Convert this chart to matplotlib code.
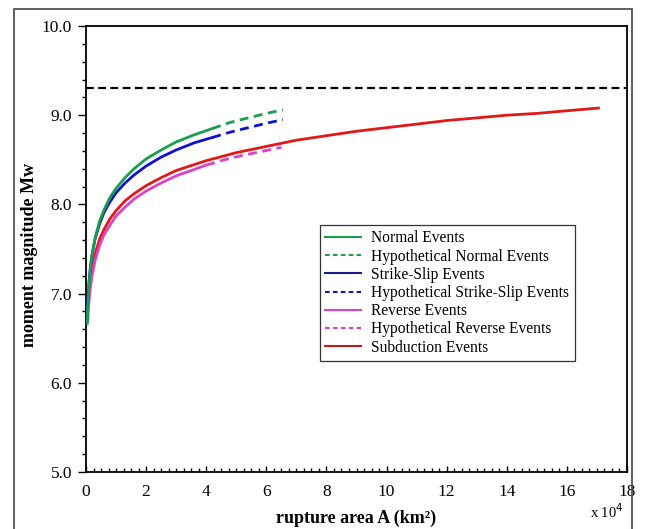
import matplotlib
matplotlib.use("Agg")
import matplotlib.pyplot as plt
from matplotlib.patches import Rectangle
from matplotlib.ticker import MultipleLocator

plt.rcParams['font.family'] = ['Liberation Serif', 'DejaVu Serif']

# rupture area in units of 10^4 km^2, magnitude
normal_x = [0.04, 0.06, 0.1, 0.15, 0.2, 0.3, 0.45, 0.6, 0.8, 1.0, 1.3, 1.6, 2.0, 2.5, 3.0, 3.6, 4.2]
normal_y = [6.67, 6.86, 7.10, 7.29, 7.43, 7.62, 7.81, 7.94, 8.08, 8.18, 8.30, 8.40, 8.51, 8.61, 8.70, 8.78, 8.85]
hyp_normal_x = [4.2, 4.8, 5.4, 6.0, 6.55]
hyp_normal_y = [8.85, 8.92, 8.97, 9.02, 9.06]

ss_x = [0.035, 0.05, 0.07, 0.1, 0.15, 0.2, 0.3, 0.45, 0.6, 0.8, 1.0, 1.3, 1.6, 2.0, 2.5, 3.0, 3.6, 4.2]
ss_y = [6.67, 6.83, 6.97, 7.13, 7.31, 7.43, 7.61, 7.78, 7.91, 8.03, 8.13, 8.24, 8.33, 8.43, 8.53, 8.61, 8.69, 8.75]
hyp_ss_x = [4.2, 4.8, 5.4, 6.0, 6.55]
hyp_ss_y = [8.75, 8.81, 8.86, 8.91, 8.95]

rev_x = [0.06, 0.08, 0.1, 0.15, 0.2, 0.3, 0.45, 0.6, 0.8, 1.0, 1.3, 1.6, 2.0, 2.5, 3.0, 3.5, 4.0]
rev_y = [6.71, 6.82, 6.92, 7.08, 7.20, 7.37, 7.54, 7.66, 7.77, 7.87, 7.97, 8.06, 8.15, 8.24, 8.32, 8.38, 8.44]
hyp_rev_x = [4.0, 4.6, 5.2, 5.8, 6.5]
hyp_rev_y = [8.44, 8.50, 8.55, 8.59, 8.64]

sub_x = [0.065, 0.08, 0.1, 0.15, 0.2, 0.3, 0.45, 0.6, 0.8, 1.0, 1.3, 1.6, 2.0, 2.5, 3.0,
         4.0, 5.0, 6.0, 7.0, 8.0, 9.0, 10, 11, 12, 13, 14, 15, 16, 17.05]
sub_y = [6.83, 6.91, 7.00, 7.16, 7.28, 7.44, 7.61, 7.72, 7.84, 7.93, 8.04, 8.12, 8.21, 8.30, 8.38,
         8.49, 8.58, 8.65, 8.72, 8.77, 8.82, 8.86, 8.90, 8.94, 8.97, 9.00, 9.02, 9.05, 9.08]

limit_y = 9.3

green = '#1a9e4e'
blue = '#1010d0'
navy = '#1a1a8a'
pink = '#e040c8'
red = '#e01818'
dark_red = '#c01c1c'
dash = (3.2, 2.0)

fig = plt.figure(figsize=(6.45, 5.29), dpi=100)
ax = fig.add_axes([86/645, 1-472/529, (627-86)/645, (472-26)/529])

ax.plot([0, 18], [limit_y, limit_y], color='black', lw=1.6, dashes=(3.5, 2.0))

ax.plot(sub_x, sub_y, color=red, lw=2.0, zorder=3)
ax.plot(rev_x, rev_y, color=pink, lw=2.0, zorder=3)
ax.plot(hyp_rev_x, hyp_rev_y, color=pink, lw=2.0, dashes=dash, zorder=3)
ax.plot(ss_x, ss_y, color=blue, lw=2.0, zorder=3)
ax.plot(hyp_ss_x, hyp_ss_y, color=blue, lw=2.0, dashes=dash, zorder=3)
ax.plot(normal_x, normal_y, color=green, lw=2.0, zorder=3)
ax.plot(hyp_normal_x, hyp_normal_y, color=green, lw=2.0, dashes=dash, zorder=3)

# legend handles (separate so the ordering matches the reference)
h = []
h.append(ax.plot([], [], color=green, lw=1.5, label='Normal Events')[0])
h.append(ax.plot([], [], color=green, lw=1.5, dashes=(2.2, 1.6), label='Hypothetical Normal Events')[0])
h.append(ax.plot([], [], color=navy, lw=1.5, label='Strike-Slip Events')[0])
h.append(ax.plot([], [], color=blue, lw=1.5, dashes=(2.2, 1.6), label='Hypothetical Strike-Slip Events')[0])
h.append(ax.plot([], [], color=pink, lw=1.5, label='Reverse Events')[0])
h.append(ax.plot([], [], color=pink, lw=1.5, dashes=(2.2, 1.6), label='Hypothetical Reverse Events')[0])
h.append(ax.plot([], [], color=dark_red, lw=1.5, label='Subduction Events')[0])
leg = fig.legend(handles=h, loc='upper left', bbox_to_anchor=(320/645, 1-225/529),
                 fancybox=False, framealpha=1, edgecolor='#333333', fontsize=11.2,
                 handlelength=2.3, labelspacing=0.14, borderpad=0.35, handletextpad=0.65,
                 borderaxespad=0)
leg.get_frame().set_linewidth(0.9)

ax.set_xlim(0, 18)
ax.set_ylim(5, 10)
ax.set_xticks(range(0, 19, 2))
ax.set_yticks([5, 6, 7, 8, 9, 10])
ax.set_yticklabels(['5.0', '6.0', '7.0', '8.0', '9.0', '10.0'])
ax.xaxis.set_minor_locator(MultipleLocator(0.25))
ax.yaxis.set_minor_locator(MultipleLocator(0.2))
ax.tick_params(axis='y', which='major', direction='out', length=6, width=1, labelsize=12.5, pad=4)
ax.tick_params(axis='y', which='minor', direction='out', length=3, width=1)
ax.tick_params(axis='x', which='major', direction='in', length=4, width=1, labelsize=12.5, pad=9)
ax.tick_params(axis='x', which='minor', direction='in', length=3, width=1)
for s in ax.spines.values():
    s.set_linewidth(1.3)

fig.text(30/645, 1-255/529, 'moment magnitude Mw', fontsize=13, fontweight='bold',
         rotation=90, ha='center', va='center')
fig.text(356/645, 1-518/529, 'rupture area A (km²)', fontsize=13, fontweight='bold',
         ha='center', va='center')
fig.text(607/645, 1-512/529, 'x 10$^4$', fontsize=10.5, ha='center', va='center')

# outer frame of the figure panel
fig.patches.append(Rectangle((14/645, -0.05), (632-14)/645, 1.05-9/529,
                             transform=fig.transFigure, fill=False,
                             edgecolor='#444444', lw=1.2))

fig.savefig('out.png', dpi=100)
